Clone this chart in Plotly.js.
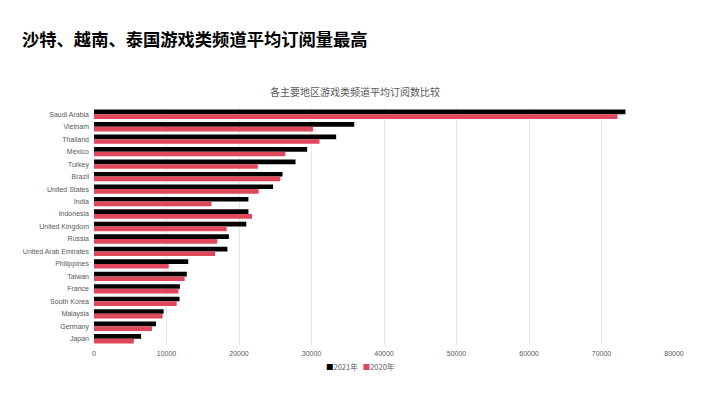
<!DOCTYPE html>
<html>
<head>
<meta charset="utf-8">
<script src="https://cdn.plot.ly/plotly-3.0.1.min.js"></script>
<style>html,body{margin:0;padding:0;background:#fff;}#chart{width:710px;height:399px;}</style>
</head>
<body>
<div id="chart"></div>
<script>
const categories = ["Saudi Arabia","Vietnam","Thailand","Mexico","Turkey","Brazil","United States","India","Indonesia","United Kingdom","Russia","United Arab Emirates","Philippines","Taiwan","France","South Korea","Malaysia","Germany","Japan"];
const values2021 = [73300,35900,33400,29400,27800,26000,24700,21300,21300,21000,18600,18400,13000,12800,11850,11800,9600,8550,6500];
const values2020 = [72200,30200,31100,26400,22600,25700,22700,16200,21800,18300,17000,16700,10300,12500,11650,11400,9450,8000,5500];
const seriesNames = ["2021年","2020年"];
const seriesColors = ["#000000","#E0475B"];
const xTicks = [0,10000,20000,30000,40000,50000,60000,70000,80000];

const cjk = '"Noto Sans CJK SC", "Noto Sans", sans-serif';
const lat = '"Liberation Sans", Arial, sans-serif';

const data = [
  {type:'bar', orientation:'h', name:seriesNames[0], y:categories, x:values2021, marker:{color:seriesColors[0]}},
  {type:'bar', orientation:'h', name:seriesNames[1], y:categories, x:values2020, marker:{color:seriesColors[1]}}
];

const legendText = seriesNames.map((n,i)=>'<span style="color:'+seriesColors[i]+'">■</span>'+n).join('&nbsp;&nbsp;&nbsp;');

const layout = {
  width:710, height:399,
  margin:{l:94, r:36, t:108, b:54},
  paper_bgcolor:'#ffffff', plot_bgcolor:'#ffffff',
  barmode:'group', bargap:0.25, bargroupgap:0,
  title:{text:'各主要地区游戏类频道平均订阅数比较', font:{family:cjk, size:10, color:'#595959'}, x:0.5, xanchor:'center', xref:'container', y:1-92/399, yanchor:'middle', yref:'container'},
  xaxis:{range:[0,80000], tickvals:xTicks, ticktext:xTicks.map(String), showgrid:true, gridcolor:'#e6e6e6', gridwidth:1, zeroline:false, showline:false, ticks:'', tickfont:{family:lat, size:7, color:'#595959'}, ticklabelstandoff:3},
  yaxis:{autorange:'reversed', type:'category', showgrid:false, zeroline:false, showline:false, ticks:'', tickfont:{family:lat, size:7, color:'#595959'}, ticklabelstandoff:4},
  showlegend:false,
  annotations:[
    {text:'<b>沙特、越南、泰国游戏类频道平均订阅量最高</b>', xref:'paper', yref:'paper', x:(20-94)/580, y:(345-38)/237, xanchor:'left', yanchor:'middle', showarrow:false, font:{family:cjk, size:17.3, color:'#000000'}},
    {text:legendText, xref:'paper', yref:'paper', x:(360-94)/580, y:(345-366)/237, xanchor:'center', yanchor:'middle', showarrow:false, font:{family:cjk, size:7.5, color:'#595959'}}
  ]
};

Plotly.newPlot('chart', data, layout, {displayModeBar:false, staticPlot:true});
</script>
</body>
</html>
